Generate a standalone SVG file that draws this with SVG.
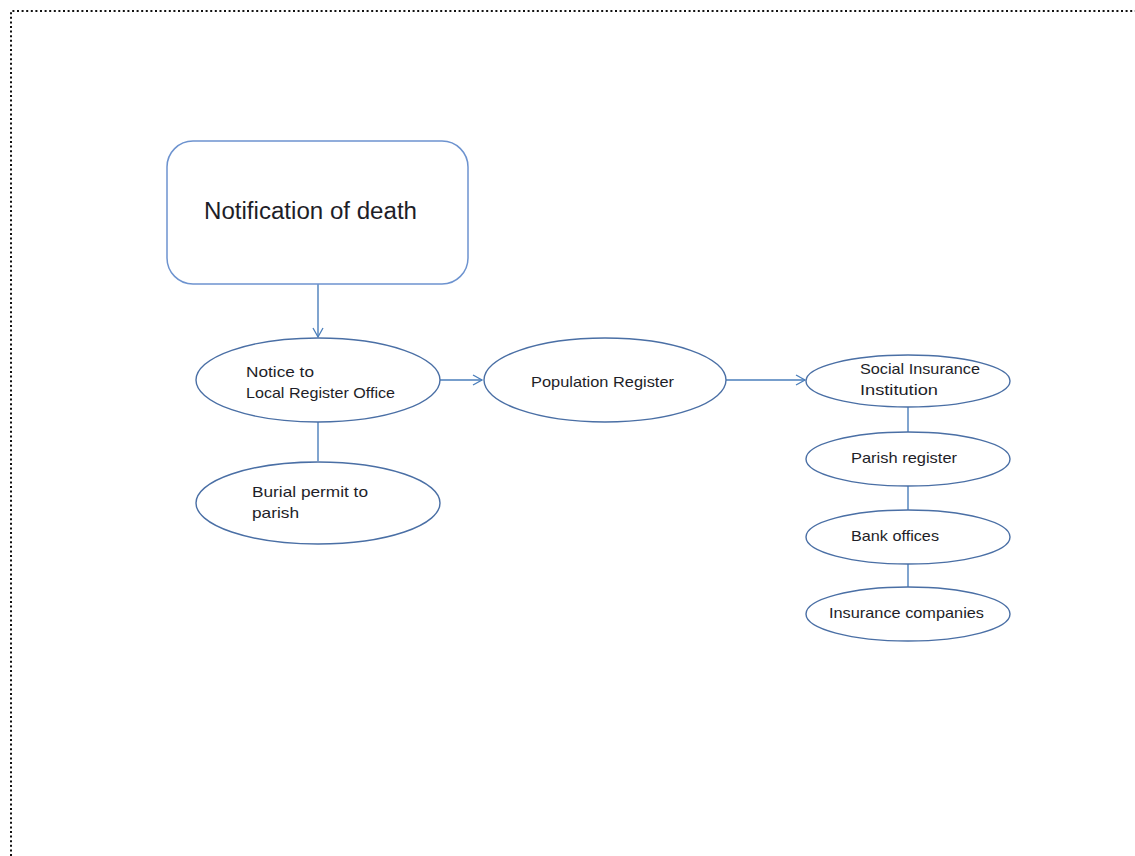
<svg xmlns="http://www.w3.org/2000/svg" width="1135" height="856" viewBox="0 0 1135 856">
  <style>
    .frame { fill: none; stroke: #111; stroke-width: 2; stroke-dasharray: 2 2.6; }
    .node { fill: #fff; stroke: #4a6fa5; stroke-width: 1.4; }
    .box { fill: #fff; stroke: #6d93cf; stroke-width: 1.5; }
    .link { fill: none; stroke: #4a7ebb; stroke-width: 1.4; }
    .lbl { font-family: "Liberation Sans", Arial, sans-serif; font-size: 15px; fill: #1e1e28; }
    .big { font-family: "Liberation Sans", Arial, sans-serif; font-size: 23.5px; fill: #1e1e28; }
  </style>
  <defs>
    <marker id="open-arrow" markerWidth="12" markerHeight="12" refX="10" refY="6" orient="auto" markerUnits="userSpaceOnUse">
      <path d="M1,1 L10,6 L1,11" fill="none" stroke="#4a7ebb" stroke-width="1.3"/>
    </marker>
  </defs>

  <rect width="1135" height="856" fill="#fff"/>
  <!-- dotted page frame -->
  <path class="frame" d="M11,856 L11,11 L1135,11"/>

  <g id="connectors">
    <line class="link" x1="318" y1="284" x2="318" y2="337" marker-end="url(#open-arrow)"/>
    <line class="link" x1="318" y1="422" x2="318" y2="461"/>
    <line class="link" x1="440" y1="380" x2="482" y2="380" marker-end="url(#open-arrow)"/>
    <line class="link" x1="726" y1="380" x2="805" y2="380" marker-end="url(#open-arrow)"/>
    <line class="link" x1="908" y1="407" x2="908" y2="432"/>
    <line class="link" x1="908" y1="486" x2="908" y2="510"/>
    <line class="link" x1="908" y1="564" x2="908" y2="587"/>
  </g>

  <g id="notification">
    <rect class="box" x="167" y="141" width="301" height="143" rx="26"/>
    <text class="big" x="204" y="219" textLength="213" lengthAdjust="spacingAndGlyphs">Notification of death</text>
  </g>

  <g id="local-register">
    <ellipse class="node" cx="318" cy="380" rx="122" ry="42"/>
    <text class="lbl" x="246" y="377" textLength="68" lengthAdjust="spacingAndGlyphs">Notice to</text>
    <text class="lbl" x="246" y="398" textLength="149" lengthAdjust="spacingAndGlyphs">Local Register Office</text>
  </g>

  <g id="burial-permit">
    <ellipse class="node" cx="318" cy="503" rx="122" ry="41"/>
    <text class="lbl" x="252" y="497" textLength="116" lengthAdjust="spacingAndGlyphs">Burial permit to</text>
    <text class="lbl" x="252" y="518" textLength="47" lengthAdjust="spacingAndGlyphs">parish</text>
  </g>

  <g id="population-register">
    <ellipse class="node" cx="605" cy="380" rx="121" ry="42"/>
    <text class="lbl" x="531" y="387" textLength="143" lengthAdjust="spacingAndGlyphs">Population Register</text>
  </g>

  <g id="social-insurance">
    <ellipse class="node" cx="908" cy="381" rx="102" ry="26"/>
    <text class="lbl" x="860" y="374" textLength="120" lengthAdjust="spacingAndGlyphs">Social Insurance</text>
    <text class="lbl" x="860" y="395" textLength="78" lengthAdjust="spacingAndGlyphs">Institution</text>
  </g>

  <g id="parish-register">
    <ellipse class="node" cx="908" cy="459" rx="102" ry="27"/>
    <text class="lbl" x="851" y="463" textLength="106" lengthAdjust="spacingAndGlyphs">Parish register</text>
  </g>

  <g id="bank-offices">
    <ellipse class="node" cx="908" cy="537" rx="102" ry="27"/>
    <text class="lbl" x="851" y="541" textLength="88" lengthAdjust="spacingAndGlyphs">Bank offices</text>
  </g>

  <g id="insurance-companies">
    <ellipse class="node" cx="908" cy="614" rx="102" ry="27"/>
    <text class="lbl" x="829" y="618" textLength="155" lengthAdjust="spacingAndGlyphs">Insurance companies</text>
  </g>
</svg>
